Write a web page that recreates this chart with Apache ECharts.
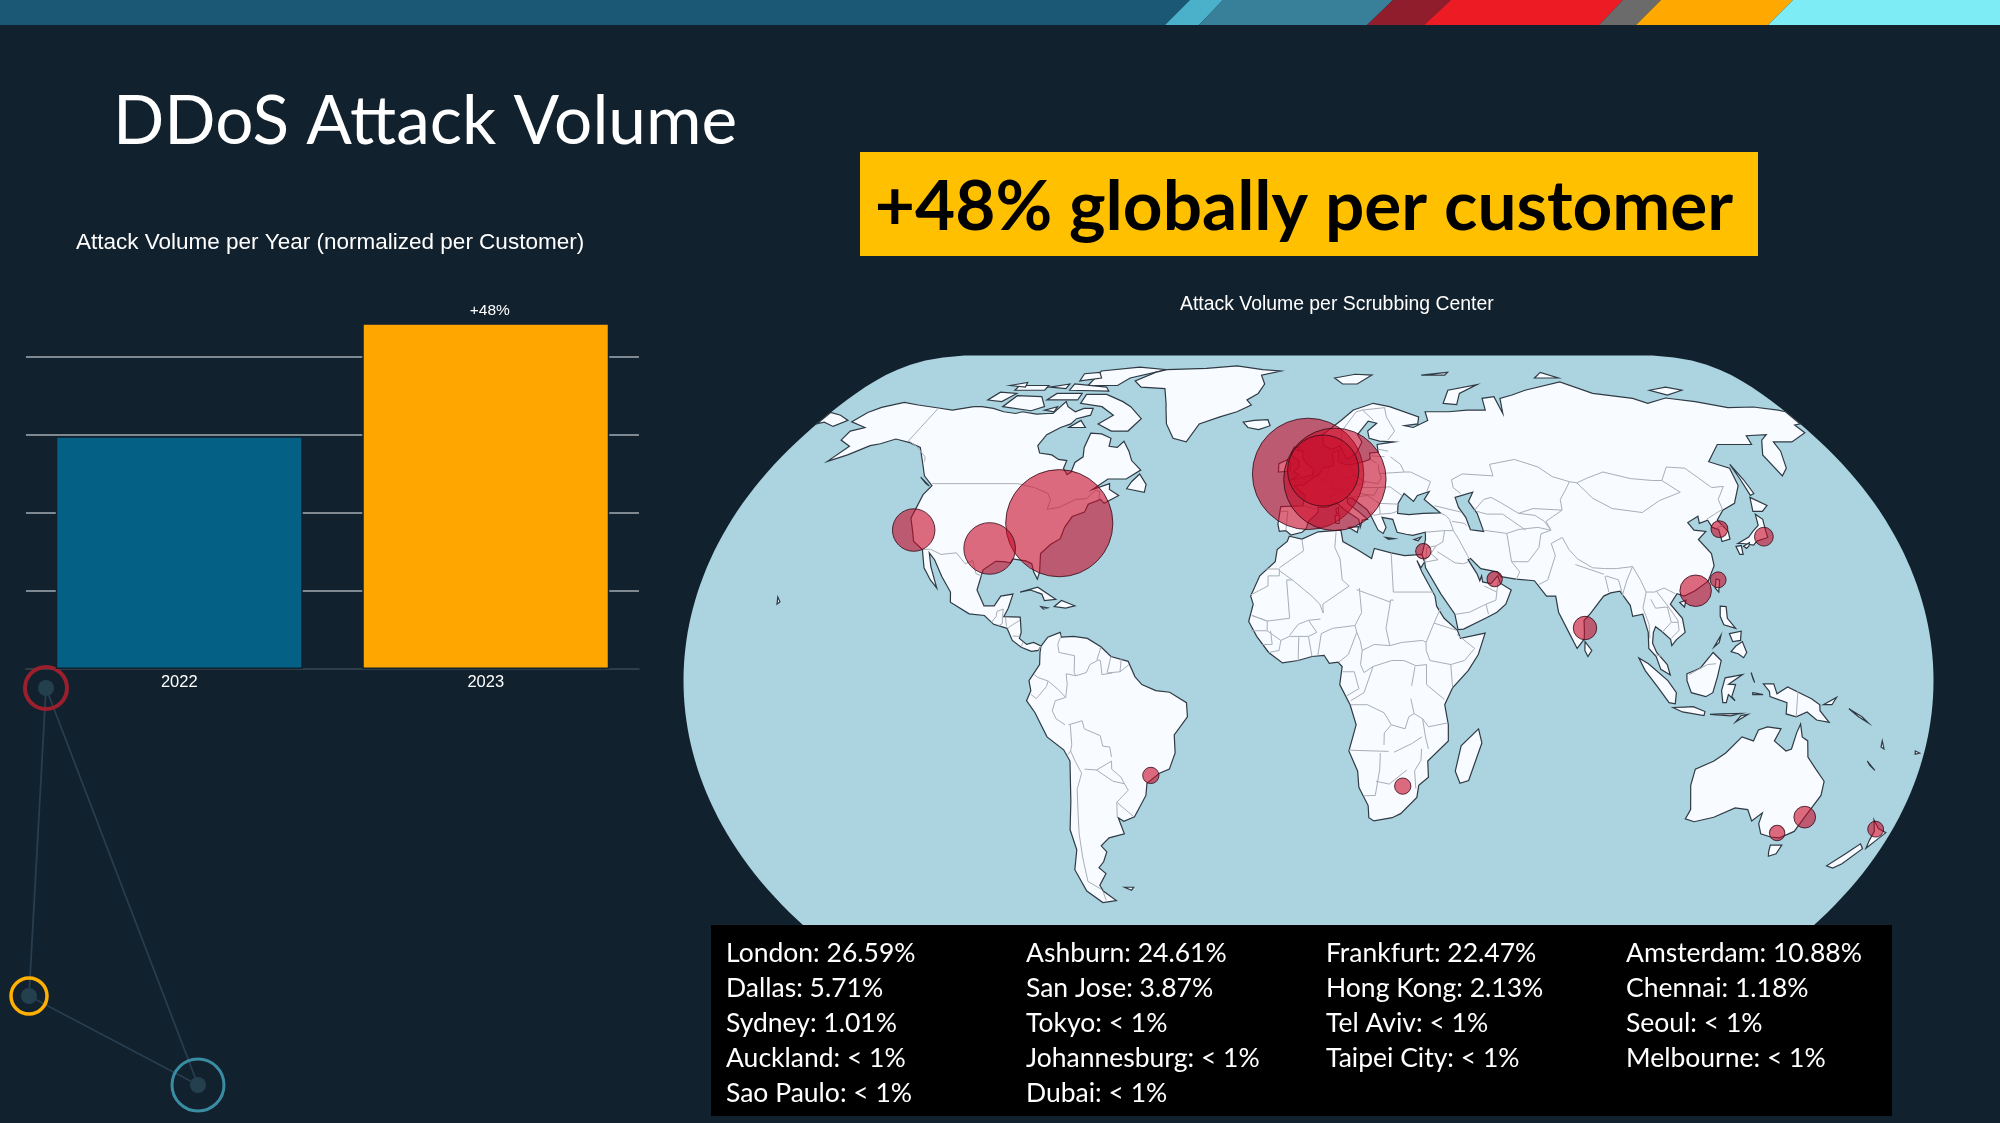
<!DOCTYPE html>
<html lang="en">

<head>
  <meta charset="utf-8">
  <title>DDoS Attack Volume</title>
  <script src="https://cdn.jsdelivr.net/npm/echarts@6/dist/echarts.min.js"></script>
  <style>
    body {
      margin: 0;
      background: #11212d;
      overflow: hidden;
    }

    #chart {
      width: 2000px;
      height: 1123px;
    }
  </style>
</head>

<body>
  <div id="chart"></div>

  <script>
    // --- Bar chart data.

    const YEARS = ['2022', '2023'];
    const YEAR_VOLUMES = [100.3, 148.9];
    const YEAR_LABELS = ['', '+48%'];

    // --- Scrubbing centers, in the order of the table under the map.

    const CITY_NAMES = ['London', 'Ashburn', 'Frankfurt', 'Amsterdam', 'Dallas', 'San Jose', 'Hong Kong', 'Chennai',
      'Sydney', 'Tokyo', 'Tel Aviv', 'Seoul', 'Auckland', 'Johannesburg', 'Taipei City', 'Melbourne', 'Sao Paulo', 'Dubai'];
    const CITY_SHARES = [26.59, 24.61, 22.47, 10.88, 5.71, 3.87, 2.13, 1.18,
      1.01, 0.76, 0.51, 0.61, 0.54, 0.57, 0.54, 0.51, 0.57, 0.51];
    const CITY_LONS = [-0.13, -77.49, 8.68, 4.9, -96.8, -121.89, 114.17, 80.27,
      151.21, 139.69, 34.78, 126.98, 174.76, 28.05, 121.56, 144.96, -46.63, 55.27];
    const CITY_LATS = [51.51, 39.04, 50.11, 52.37, 32.78, 37.34, 22.32, 13.08,
      -33.87, 35.69, 32.09, 37.57, -36.85, -26.2, 25.03, -37.81, -23.55, 25.2];

    // --- Simplified world outlines, [lon, lat].

    const LAND_POLYGONS = [
      // North America
      [[-168,65.6],[-166,68.3],[-163,69.8],[-156.5,71.3],[-150,70.5],[-141,69.6],[-135,69],[-128,70],[-125,70],[-120,69.5],[-115,68.5],[-110,68],[-108,68.5],[-102,67.8],[-98,68],[-96,68],[-94,71.5],[-92,70],[-88,68.5],[-85.5,69.5],[-82,69.5],[-81.5,67.5],[-86,66.5],[-87,65],[-90,64],[-93.5,62],[-94.5,59],[-92.5,57],[-88,56.5],[-85,55.3],[-82,55],[-82,52.9],[-80,51.3],[-79,52],[-79,54.5],[-77,56],[-78,58.5],[-78,62.4],[-74,62.2],[-70,61],[-69.5,58.8],[-66.5,58.5],[-65,60.2],[-62,57.5],[-60,55],[-56,52.5],[-60,50.2],[-66,50.2],[-70,47.5],[-65,49],[-64.5,47.5],[-61,46],[-65,44],[-66.5,45],[-70,43.8],[-70.5,41.8],[-74,40.7],[-75.5,38],[-76,35.2],[-78.5,33.8],[-81,31.5],[-80.2,27],[-80.5,25.2],[-82,27],[-83,29],[-85,29.7],[-89,30.2],[-89.5,29.2],[-91.5,29.5],[-94,29.6],[-97.2,27.5],[-97.8,22.5],[-95,18.6],[-92,18.6],[-90.5,21],[-87,21.5],[-87.8,18],[-88.8,15.9],[-84,15.8],[-83.3,12],[-83.7,10.5],[-81.5,9],[-79.5,9.5],[-77.3,8.6],[-78,7.5],[-80,7.3],[-83,8.3],[-85.7,10],[-87.5,13],[-91.5,14],[-94.5,16.2],[-99,16.6],[-105,19.5],[-105.5,22],[-109,25.8],[-112.5,30],[-114.7,31.7],[-113,28.2],[-109.8,23],[-112.2,25],[-115,28],[-117.1,32.5],[-120.6,34.5],[-122.5,37.7],[-124.3,40.3],[-124,46.2],[-122.7,48.5],[-127,51],[-130.5,54.5],[-135,58.5],[-140,59.8],[-146,60.8],[-150,59.5],[-153,59],[-158,56.5],[-163,54.8],[-160,58.8],[-165,60.5],[-165,63],[-161,64]],
      // Canadian Arctic
      [[-80,73.7],[-72,71.5],[-68,70],[-62,66.5],[-65,63],[-71,63],[-77,65],[-73,67.5],[-79,70],[-88,71],[-88,73.7]],
      [[-117,70],[-105,68.8],[-101,70],[-105,73],[-115,73.3]],
      [[-125,72],[-119,71.5],[-116,74],[-123,74.4]],
      [[-90,76.5],[-78,76.5],[-75,79],[-62,82],[-75,83],[-90,81.5]],
      [[-96,75],[-80,74.7],[-82,76],[-96,77]],
      [[-118,75],[-106,75],[-106,76.5],[-118,76.5]],
      [[-95,78],[-87,79],[-90,81],[-96,80.5]],
      [[-87,64],[-81,64],[-84,66]],
      [[-102,72],[-90,72],[-90,74],[-100,74]],
      [[-122,76.5],[-115,76],[-116,77.5]],
      [[-105,76],[-98,75.5],[-98,77]],
      [[-100,69],[-96,68.5],[-96,70]],
      [[-59,47.7],[-53,46.8],[-53,48.8],[-56,51.5],[-58,49.5]],
      [[-128,50.7],[-123.5,48.4],[-125,49]],
      // Greenland, Caribbean, Hawaii
      [[-62,82],[-45,82.5],[-32,83.5],[-20,82],[-12,81.5],[-20,80],[-18,77],[-20,74],[-24,72],[-22,70.5],[-27,68.5],[-33,67],[-40,65],[-43,60],[-48,61],[-52,65],[-54,69],[-55,71],[-58,75.5],[-68,76],[-72,78],[-66,81]],
      [[-85,22],[-80,23.2],[-74.2,20.2],[-77.5,19.9],[-78.5,21.5],[-82,22.5]],
      [[-74.4,18.4],[-72.5,19.9],[-68.4,18.6],[-71,18]],
      [[-78.3,18.4],[-76.3,18.1],[-77.5,17.8]],
      [[-156,20.8],[-155,19.6],[-155.7,19]],
      // South America
      [[-77.3,8.6],[-75.5,10.8],[-72,12],[-71.5,10.8],[-68,11],[-64,10.5],[-60,8.4],[-57,6],[-52,4.8],[-50,1],[-48,-1],[-44,-2.5],[-40,-2.9],[-35.2,-5.5],[-35,-9],[-39,-13.5],[-39,-18],[-41,-22],[-44,-23],[-48,-25.5],[-48.7,-28.5],[-53,-33.8],[-56.5,-34.9],[-58,-34],[-57,-38],[-62,-39],[-65,-41],[-63.7,-42.5],[-65.5,-45],[-67.5,-46.5],[-65.8,-48],[-69,-51],[-68.5,-52.5],[-65.2,-55],[-70,-55.5],[-74,-52.5],[-75.5,-47],[-73,-42],[-73.5,-37],[-71.5,-30],[-70,-20],[-71.5,-17.2],[-76,-14],[-79,-8],[-81.3,-5],[-80,-2.5],[-80.5,0],[-77.5,4],[-77.5,7]],
      [[-61,-51.5],[-58,-51.5],[-59,-52.3]],
      // Africa
      [[-5.9,35.8],[-2,35.1],[3,36.9],[10,37.3],[10.5,34.5],[15,32.4],[19,30.3],[20,32.8],[25,31.7],[29,31],[32.3,31.2],[34.3,31.3],[34.9,29.5],[33.6,28],[32.6,29.8],[33.8,27],[35.5,24],[37.2,21],[37.5,18.5],[39.5,15.5],[43.2,12.5],[44,10.5],[51.2,11.8],[49,6.5],[46,2.5],[41.5,-1.8],[39.3,-6],[40.5,-11],[40.7,-15],[35,-20],[35.5,-24],[32.8,-26],[32.5,-29],[28,-33],[25.5,-34],[20,-34.8],[18.4,-34],[18,-31],[15,-26.5],[14.5,-22.5],[11.8,-17.5],[13.8,-11],[12,-6],[9,-1],[9.7,3.5],[8.5,4.6],[6,4.3],[4.5,6.3],[1,6],[-3,5],[-7.5,4.4],[-11.5,7],[-15,11],[-17.4,14.7],[-16.2,19],[-17,21],[-14.5,26],[-10,29.5],[-9.5,32.5],[-6.5,34.5]],
      [[49.3,-12],[50.5,-15.5],[47.5,-24.8],[45,-25.5],[43.3,-22.5],[44.5,-16.2]],
      // Eurasia
      [[-9,37],[-9.5,38.8],[-8.8,43.2],[-1.8,43.4],[-1.1,46],[-4.5,48.4],[-1.5,48.7],[1.5,50.5],[3.5,51.4],[4.8,53],[8.5,53.7],[8.2,57],[10.5,57.6],[10,54.8],[12,54],[14.3,53.9],[18.5,54.7],[21,55.3],[21,57],[24,57.2],[24,59.3],[30,60],[25,60.2],[21.5,61],[21.3,63],[25,65.2],[22,65.8],[17.5,62],[18.8,60],[16.5,57],[14.5,56],[13,55.4],[11,59],[8,58],[5.3,59],[5,62],[12,66],[17,69],[25,71],[31,70],[41,67],[40,65],[35,64.5],[38,64],[44,66],[44,68.5],[53,68.5],[60,69],[67,69],[68,72.5],[73,73],[73,68],[75,72.5],[80.5,73.5],[87,75],[104,77.7],[113,74],[127,72.5],[131,71],[140,72.6],[150,71.5],[160,69.7],[170,69.9],[178,69],[180,68.5],[180,65],[177.5,64.7],[178,62.5],[170,60],[163.5,60],[163,57.5],[160,53],[156.7,51],[155.7,56.5],[160,60.5],[163.5,62],[156,61.7],[155,59.3],[143,59.3],[135.5,54.7],[141,53],[140,48.5],[135.5,44],[130.7,42.3],[127.5,39.8],[129.4,37],[129,35.1],[126.3,34.5],[126.7,37.5],[125,38],[124.5,39.8],[121.5,39],[122,40.8],[118,39.2],[119,37.3],[122.5,37],[119.3,35],[121.8,31.5],[121.5,28.5],[118.5,24.7],[114,22.3],[110.5,21],[108.5,21.6],[106,19],[108.9,15.5],[109.2,12],[106.5,10.2],[105,8.7],[104.8,10.3],[102.5,12.2],[100.8,13.4],[100,12],[99.5,9.3],[100.5,7],[103.4,4],[104.2,1.4],[101.5,2.8],[100.3,6],[98.3,8],[98.5,12],[97.5,16.5],[94.5,16],[94.2,18.7],[91.8,22.2],[89,21.8],[86.8,21],[82.3,16.7],[80.2,15],[80,12],[79.8,10.3],[77.6,8],[76,11],[73,17],[72.7,21],[70,21],[67,24.8],[61.6,25.2],[57.2,25.8],[56.3,27],[51.5,27.8],[48.8,30.3],[48,30],[50.2,26.5],[50.8,24.8],[51.5,26],[51.6,24.5],[54,24.1],[56.3,26],[56.8,24.2],[59.8,22.5],[57.8,19],[55,17],[52,15.7],[45,12.8],[43.4,12.7],[42.7,16.5],[39,21.5],[35,28],[34.9,29.5],[34.3,31.3],[35.8,35],[36,36.8],[32,36],[30,36.3],[27.3,36.8],[26.3,40],[23,40.5],[24,38],[23,36.5],[21.5,37.3],[19.5,41],[18.5,42.4],[14,45.3],[12.3,45.3],[12.5,44],[16,41.8],[18.4,40],[16.8,39.8],[16,38],[15.7,40],[12,42],[8.8,44.3],[6,43],[3,43],[3,41.7],[0,39.5],[-0.7,37.7],[-2,36.8],[-5.4,36.1],[-7,37.2]],
      [[-180,68.3],[-175,67.5],[-170,66],[-173,64.3],[-178,65.5],[-180,65]],
      // Arctic Eurasia
      [[11,79],[20,80.3],[27,80],[20,77],[14,77]],
      [[52,71],[57,70.6],[60,74],[69,76.8],[56,75]],
      [[48,80],[60,81],[58,80]],
      [[95,79],[105,79],[100,81]],
      [[137,75],[145,76],[150,75],[142,73.5]],
      // East Asia
      [[142,54],[143,50],[143.5,46.5],[142,46],[142,50]],
      [[140,42],[141.5,45.5],[145.5,43.5],[143,42]],
      [[130.9,34],[135,35.6],[137,37],[139.5,38.5],[140.3,41.3],[141.8,40],[141,37],[140.8,35.5],[137,34.6],[135.5,33.6],[132.5,34]],
      [[130,33.3],[131.7,33.5],[131.3,31.3],[130.3,31.3]],
      [[132.3,33.3],[134.5,34.2],[134,33.4],[133,32.8]],
      [[121,25.2],[122,25],[120.9,22],[120.1,23]],
      [[108.8,19.4],[110.8,20],[110,18.3]],
      // Europe and Mediterranean islands
      [[-5.7,50],[1.3,51.2],[1.7,52.7],[-1,54.5],[-2,56],[-2,57.6],[-4,57.7],[-3,58.6],[-5,58.6],[-6,56.5],[-3.2,54.9],[-3,53.4],[-5,52],[-3,51.4]],
      [[-10,52],[-6.3,52.2],[-6,54],[-7,55.3],[-10,54.2]],
      [[-24,65.5],[-22,64],[-18,63.4],[-14,64.5],[-15,66.2],[-20,66]],
      [[12.5,38],[15.5,38.2],[15,36.7]],
      [[8.3,41],[9.7,41],[9.5,39],[8.5,39]],
      [[8.7,42.7],[9.5,43],[9.4,41.5],[8.8,41.5]],
      [[23.6,35.5],[26.3,35.2],[24.5,35]],
      [[32.3,35],[34.5,35.6],[33.5,34.7]],
      // South Asia and South East Asia
      [[80,9.7],[81.8,7.5],[80.6,6],[79.8,7.5]],
      [[95.3,5.6],[98,4.2],[103.5,0],[106,-3],[105.8,-5.8],[104,-5.5],[100.5,-1.5],[97,2.5]],
      [[105.2,-6.7],[108.5,-6.6],[111,-6.5],[114.5,-7.7],[114.3,-8.7],[108,-7.8]],
      [[109,1.7],[111.3,2.5],[113,3.2],[116.8,7],[119,5],[117.8,1],[116.5,-3],[114.5,-4],[110.3,-3],[109,0]],
      [[119.5,-5.5],[119,-2.5],[120,0.7],[125,1.5],[121,-0.9],[123,-1],[122,-4],[123,-5],[121,-3.5],[120.5,-5.5]],
      [[131,-0.8],[134,-0.8],[135,-3.3],[138,-1.6],[145,-4.5],[147.5,-6],[147.7,-7.5],[150.7,-10.4],[147,-9.8],[144,-7.8],[141,-9],[138,-8.3],[138,-5.5],[133,-4],[132.8,-2.7]],
      [[123.6,-10.3],[127,-8.4],[125,-8.7]],
      [[116,-8.4],[119,-8.3],[125,-8.2],[122,-8.8]],
      [[127.5,2],[128.5,-0.5],[128,0.5]],
      [[128,-3],[131,-3.5],[128,-3.5]],
      [[120.5,18.5],[122.2,18.4],[122,15.5],[124,13],[120.7,13.9],[120,16]],
      [[122,7.2],[123.5,8.6],[125.5,9.7],[126.5,7],[125.5,5.7],[124,6.7]],
      [[122,11.7],[125.5,12.3],[125,10],[122.7,9.7]],
      [[117.2,8.4],[119.5,11.3],[118.8,9.5]],
      // Oceania
      [[114,-22],[113.7,-26],[115.7,-32],[115,-34.3],[118,-35],[123.5,-33.9],[129,-31.6],[133,-32],[135.5,-34.8],[137.8,-32.8],[138,-35.5],[140,-38],[143.5,-38.8],[146.4,-39],[150,-37.4],[151.2,-33.8],[153.5,-28.5],[153,-25],[149.5,-22],[146.3,-19],[145.3,-15],[143.5,-14],[142.5,-10.8],[141.7,-13],[141,-17],[139.5,-17.5],[135.6,-15],[137,-12],[133,-11.5],[130.5,-12.3],[129.5,-15],[126,-14],[122,-18],[119,-20]],
      [[144.7,-40.8],[148.3,-40.8],[148,-43],[146,-43.6],[145.3,-42.5]],
      [[172.7,-34.5],[175.5,-36.7],[178.5,-37.7],[177,-39.5],[175.3,-41.6],[174.8,-39.5],[174.7,-37.3]],
      [[172.7,-40.5],[174.3,-41.7],[171,-45.5],[169,-46.6],[166.5,-46],[170,-43]],
      [[148.5,-6],[152.2,-4.2],[151,-6]],
      [[156,-7],[160,-9],[162,-10.5],[159,-9]],
      [[164,-20],[167,-22.3],[165,-21]],
      [[167,-15],[168,-17],[167,-16.5]],
      [[177.3,-17.5],[178.7,-18],[177.5,-18.3]]
    ];

    // Inland seas, painted over the land in the ocean colour.
    const WATER_POLYGONS = [
      [[28,41.5],[31.5,41.2],[36,41.5],[41.5,41.6],[37,45],[39,47],[35,46],[33.5,44.5],[30.8,46.5],[28.5,44]],
      [[47,45.5],[53,46.8],[51,44.5],[53,41.5],[54,37],[50,37.4],[49.2,40.5],[47.5,43]]
    ];

    const BORDER_LINES = [
      // North America
      [[-123,49],[-95,49],[-89,48],[-84,46.5],[-82.5,45],[-82.5,42.5],[-79,43],[-76,44.3],[-74.5,45],[-71,45.2],[-69,47.3],[-67.5,47],[-67,45]],
      [[-141,69.6],[-141,60.3],[-137,59],[-131,56],[-130,54.7]],
      [[-117,32.5],[-114.7,32.6],[-111,31.3],[-106.5,31.7],[-103,29],[-101,29.8],[-99,26.5],[-97.2,26]],
      [[-92.2,14.5],[-91,16],[-91,17.2],[-89.2,17.8]],
      [[-89.2,17.8],[-89.2,15.9]],
      [[-89.2,15.9],[-89,14.2],[-90,13.7]],
      [[-88.3,15.7],[-87.7,13.5]],
      [[-84,15],[-86,13.9],[-87.3,13]],
      [[-83.7,11],[-85.7,11.1]],
      [[-82.6,9.5],[-83,8.3]],
      // South America
      [[-77.4,8.6],[-77.9,7.2]],
      [[-71.5,11.7],[-72.5,9],[-72,7],[-67.5,6.2],[-67.5,2],[-67,1.2]],
      [[-60,8.3],[-61,5.2],[-60,5]],
      [[-67,1.2],[-64,2],[-63,4],[-60.8,5]],
      [[-60,5],[-59.5,1.5],[-56.5,1.9]],
      [[-57,6],[-58,2]],
      [[-54,5.5],[-54.3,2.2]],
      [[-58,1.9],[-54.3,2.2],[-51.7,4]],
      [[-67,1.2],[-69.8,1.7],[-69.5,-1],[-70,-4.2]],
      [[-70,-4.2],[-72,-2.3],[-75,-0.1]],
      [[-75,-0.1],[-78,0.8],[-79,1.5]],
      [[-75,-0.1],[-75.5,-1.5],[-78.5,-4.5],[-80,-3.4]],
      [[-70,-4.2],[-73,-5],[-74,-7.5],[-73,-9.5],[-70.5,-11]],
      [[-69,-11],[-69,-16],[-69.5,-17.5]],
      [[-69.5,-11],[-65.5,-10],[-65,-12],[-60.5,-13.7],[-60,-16.3],[-58,-16.5],[-57.7,-19]],
      [[-57.8,-20],[-62.5,-22.2]],
      [[-62.5,-22.2],[-66,-22]],
      [[-69.5,-17.5],[-68.5,-20],[-67,-23]],
      [[-69.5,-17.5],[-70.4,-18.4]],
      [[-67,-23],[-69,-27],[-70,-33],[-71,-38],[-71.8,-44],[-72.5,-50],[-69,-52]],
      [[-68.6,-52.6],[-68.6,-54.9]],
      [[-62.5,-22.2],[-58,-25],[-54.7,-25.6]],
      [[-57.8,-20],[-58,-22],[-55.5,-24],[-54.7,-25.6]],
      [[-54.7,-25.6],[-53.8,-27.2],[-57.7,-30.2]],
      [[-57.7,-30.2],[-58.3,-34]],
      [[-57.7,-30.2],[-53.3,-33.7]],
      // Africa
      [[-2,35],[-1.5,32.2],[-8.7,28]],
      [[-8.7,27.7],[-13,27.7]],
      [[-8.7,27.7],[-8.7,26],[-12,26],[-12,23.5],[-17,21.3]],
      [[-8.7,27.3],[-4.8,25],[-6.5,25],[-5.5,15.5],[-12,14.8],[-16.5,16.2]],
      [[-4.8,25],[1,21],[3.3,19],[4.3,16.8],[4.2,19],[12,23.5]],
      [[8.5,37],[8,33],[9.5,30.2]],
      [[9.5,30.2],[10,25],[12,23.5]],
      [[25,31.6],[25,22]],
      [[14.2,22.6],[24,19.5]],
      [[25,22],[36.9,22]],
      [[24,19.5],[24,20],[25,20]],
      [[15,23],[15.5,16.9],[13.5,13.7]],
      [[13.5,13.7],[7,13],[3.7,11.7]],
      [[-5.5,11.2],[-3,14],[0,15],[3.5,15.3]],
      [[0,15],[2.4,12]],
      [[24,19.5],[22.5,13],[23.5,8.7]],
      [[15.5,7.5],[19,9],[23.5,8.7]],
      [[8.7,4.6],[11.5,6.5],[14,12],[13.5,13.7]],
      [[14,12],[15,9.8],[15.5,7.5]],
      [[15.5,7.5],[15,4],[16,2]],
      [[9.8,2.2],[13.2,2.2],[14.5,-2],[11,-3.8]],
      [[12.2,-5],[16,-3],[18.6,3.5]],
      [[16,2],[18.6,3.5]],
      [[18.6,3.5],[24,5],[27.5,5]],
      [[23.5,8.7],[27,9.5],[33,10],[34,9.5]],
      [[34,9.5],[34,7.5],[35,5]],
      [[27.5,5],[31,3.7],[34,4]],
      [[30.7,3.5],[29.7,-1.3]],
      [[35,5],[41,4]],
      [[41,4],[41.5,-1.7]],
      [[34,4],[34,-1]],
      [[34,-1],[39.2,-4.7]],
      [[29.5,-4.5],[30.5,-8.2]],
      [[30.5,-8.2],[33,-9.5],[34.8,-11.5]],
      [[34.8,-11.5],[40.4,-10.5]],
      [[33,-9.5],[34,-14],[35,-17]],
      [[12.2,-6],[17,-6],[21.8,-8],[24,-11]],
      [[24,-11],[22,-13],[22,-16]],
      [[11.8,-17.3],[23.4,-17.6]],
      [[21,-18],[21,-22],[20,-28.5]],
      [[20,-28.5],[16.5,-28.6]],
      [[20,-25],[24,-25.7],[29,-22.2]],
      [[33,-17],[33,-19.8],[31.3,-22.4]],
      [[25,-17.8],[30,-15.7]],
      [[30,-15.7],[33,-14]],
      [[24,-11],[28,-12],[29,-9],[30.5,-8.2]],
      [[31.3,-22.4],[32,-26.8]],
      [[36.5,14.3],[43,12.5]],
      [[36.5,14.3],[34,9.5]],
      [[36.5,14.3],[38.6,18]],
      [[43,11.5],[48,8],[45,5],[41,4]],
      [[-16.5,16.2],[-12,14.8],[-12,12.4],[-16.7,12.4]],
      [[-13.3,9],[-10.5,9],[-11,12.4]],
      [[-11.5,7],[-8.5,7.5],[-8,10]],
      [[-3,5],[-2.8,11]],
      [[1,6],[0,11]],
      [[2.7,6.3],[3.7,11.7]],
      [[-5.5,11],[-2.8,11],[0,11],[2.4,12]],
      [[-12,12.4],[-8,10],[-5.5,11]],
      // Europe
      [[-1.8,43.4],[3,42.5]],
      [[-8.8,42],[-6.5,42],[-7,37.2]],
      [[2.5,51],[6,49.5],[8,49],[7.5,47.6]],
      [[6,51],[7,53.3]],
      [[7.5,44],[7,46]],
      [[7,46],[10.5,47],[13,46.7],[13.7,45.7]],
      [[7.5,47.6],[13,47.5],[13.8,48.7]],
      [[14.3,53.9],[15,51]],
      [[12.2,50.3],[15,51],[18.8,49.5],[17,48.7],[13.8,48.7]],
      [[18.8,49.5],[22.7,49],[24,50.5],[23.5,52],[23.5,54]],
      [[21,55.3],[23,54.3]],
      [[28,56],[31,54],[31.8,52]],
      [[31.8,52],[34,52],[40,49.5],[38.2,47]],
      [[23.6,51.6],[31.8,52]],
      [[24.3,58],[27.5,57.5]],
      [[21,56.3],[26,56]],
      [[28,60.5],[31,63],[29,67],[29,69.7]],
      [[11.5,59],[12,63],[18,68.5],[20.5,69]],
      [[20.5,69],[24,66]],
      [[20.5,69],[29,69.7]],
      [[22.7,48],[26.5,48.2],[30,46],[29.5,45.3]],
      [[17,48],[22.7,48],[21,46],[16.5,46.5]],
      [[22.5,44],[28.5,43.8]],
      [[22.5,41.3],[26,41.5],[28,42]],
      [[13.7,45.5],[19,46],[22.5,44],[22.5,41.3],[20.5,41],[19.4,42]],
      // Middle East and Central Asia
      [[36,36.8],[42,37.2],[44.7,37.2]],
      [[44.7,37.2],[44,40],[43,41],[41.5,41.5]],
      [[40,43.4],[48,41.8]],
      [[44.7,39.5],[48.5,39],[49,38.4]],
      [[42,37.2],[41,34.4],[38.8,33.4]],
      [[44.7,37.2],[46,35],[48,31],[48.5,30]],
      [[35.9,33],[38.8,33.4],[37,31.5],[39,30],[35,29.4]],
      [[35.9,33],[35.5,31],[34.9,29.5]],
      [[39,32],[44,29.2],[46.5,29],[48,29.5]],
      [[43,16.5],[47,17],[52,19],[55,20],[55.5,22],[52,23.5]],
      [[52.5,16.5],[52,19]],
      [[55.5,22],[56.3,25]],
      [[61.6,25],[63,27],[61,29.5]],
      [[61,29.5],[61,34.8],[61,36.5]],
      [[54,37.3],[61,36.5]],
      [[61,36.5],[65,37.5],[71,38],[74.8,37.3]],
      [[61,29.5],[66,29.5],[70,33],[71.5,36.4],[74.8,37.3]],
      [[47,50],[51,51.5],[61,51],[61,54],[70,55.3],[77,53.3],[80.5,50.8],[85.5,49.5]],
      [[52,42],[56,45],[58.5,45.5],[61,44.3],[66,41.5],[71,42.7],[80,42.3],[80.5,45],[83,47.2],[85.5,49.5]],
      [[47,50],[47,48],[49,46.5]],
      [[53,42],[56,41.3],[61,41.3],[66,38],[67,37.3]],
      [[66,41.5],[71,41],[73.5,39.5],[74.8,37.3]],
      // South and East Asia
      [[68,23.8],[71,25],[74.5,31],[74,34],[77.8,35.5]],
      [[74.8,37.3],[74,39.5],[80,42.3]],
      [[77.8,35.5],[79,32.5],[81,30.2],[85,28],[88.5,27.8],[92,27.8],[97,28.3]],
      [[80,28.8],[88,26.4]],
      [[88.2,26],[88.5,22]],
      [[88.5,26],[92,25],[92.5,21]],
      [[97,28.3],[94.5,25],[92.5,21.5]],
      [[97,28.3],[98.5,25],[99.5,22]],
      [[99.5,22],[102,22],[105,23],[108,21.6]],
      [[99.5,22],[97.8,18],[99,14],[98.8,10.5]],
      [[100.5,20.2],[101.5,18],[105,18.3],[105.5,14.5]],
      [[102.5,22.3],[105,18.8],[107.5,15],[107.5,12.5]],
      [[102.5,12],[105.5,14.5],[107.5,14.5]],
      [[107.5,12.5],[105,10.5]],
      [[100,6.5],[102,6]],
      [[87.8,49.2],[92,50.5],[98,52],[106,50.3],[113,49.8],[116,49.8],[120,46.8],[112,44.7],[105,41.7],[96,42.7],[91,45.3],[87.8,49.2]],
      [[85.5,49.5],[87.8,49.2]],
      [[116,49.8],[120,53.3],[126,53],[131,48],[135,48.3],[131,45],[130.7,42.3]],
      [[124.3,40],[128,41.5],[130.7,42.5]],
      [[126.5,38],[128.5,38.4]],
      [[141,-2.6],[141,-9]],
      [[109.6,1.5],[115,4],[117.5,4.2]]
    ];

    // --- Natural Earth projection.

    function naturalEarth([lon, lat]) {
      const lam = lon * Math.PI / 180;
      const phi = lat * Math.PI / 180;
      const p2 = phi * phi;
      const p4 = p2 * p2;
      const p6 = p4 * p2;
      const p8 = p4 * p4;
      const p10 = p8 * p2;
      const p12 = p6 * p6;
      const l = 0.8707 - 0.131979 * p2 - 0.013791 * p4 + 0.003971 * p10 - 0.001529 * p12;
      const d = phi * (1.007226 + 0.015085 * p2 - 0.044475 * p6 + 0.028874 * p8 - 0.005916 * p10);
      return [lam * l, -d];
    }

    // Only the forward projection is used, nothing reads screen points back.
    function naturalEarthInvert(point) {
      return point;
    }

    // The outline of the whole globe, used as the ocean.
    function globeOutline() {
      const ring = [];
      for (let lat = -90; lat <= 90; lat += 2) ring.push([-180, lat]);
      for (let lat = 90; lat >= -90; lat -= 2) ring.push([180, lat]);
      ring.push([-180, -90]);
      return ring;
    }

    function closeRing(ring) {
      return ring.concat([ring[0]]);
    }

    function polygonFeature(name, ring) {
      return {
        type: 'Feature',
        properties: { name: name },
        geometry: { type: 'Polygon', coordinates: [closeRing(ring)] }
      };
    }

    function buildWorld() {
      const features = [{
        type: 'Feature',
        properties: { name: 'Ocean' },
        geometry: { type: 'Polygon', coordinates: [globeOutline()] }
      }];
      LAND_POLYGONS.forEach((ring, i) => features.push(polygonFeature('Land ' + i, ring)));
      WATER_POLYGONS.forEach((ring, i) => features.push(polygonFeature('Water ' + i, ring)));
      return { type: 'FeatureCollection', features: features };
    }

    // --- Page furniture: colours of the strip on top, and the three rings.

    const BG = '#11212d';
    const OCEAN = '#abd3e0';
    const TEXT = '#ffffff';
    const BODY_FONT = '"Liberation Sans", Arial, sans-serif';
    const SLIDE_FONT = 'Lato, "Open Sans", sans-serif';

    const STRIP = [
      { color: '#1b5876', points: [[0, 0], [1190, 0], [1165, 25], [0, 25]] },
      { color: '#4bb0c9', points: [[1190, 0], [1223, 0], [1199, 25], [1165, 25]] },
      { color: '#38809a', points: [[1223, 0], [1393, 0], [1367, 25], [1199, 25]] },
      { color: '#8f1d2c', points: [[1393, 0], [1451, 0], [1424, 25], [1367, 25]] },
      { color: '#ed1c24', points: [[1451, 0], [1623, 0], [1599, 25], [1424, 25]] },
      { color: '#6b6b6b', points: [[1623, 0], [1661, 0], [1636, 25], [1599, 25]] },
      { color: '#ffa800', points: [[1661, 0], [1793, 0], [1768, 25], [1636, 25]] },
      { color: '#7eecf4', points: [[1793, 0], [2000, 0], [2000, 25], [1768, 25]] }
    ];

    const RINGS = [
      { cx: 46, cy: 688, r: 21, color: '#9c1f2e', width: 4 },
      { cx: 29, cy: 996, r: 18, color: '#ffb000', width: 3.5 },
      { cx: 198, cy: 1085, r: 26, color: '#3a8ca3', width: 3 }
    ];

    function lineElement(a, b) {
      return {
        type: 'line',
        z: 1,
        shape: { x1: a.cx, y1: a.cy, x2: b.cx, y2: b.cy },
        style: { stroke: '#283d4e', lineWidth: 1.8 }
      };
    }

    function furniture() {
      const items = [];

      STRIP.forEach(s => items.push({
        type: 'polygon',
        z: 1,
        shape: { points: s.points },
        style: { fill: s.color }
      }));

      items.push(lineElement(RINGS[0], RINGS[1]));
      items.push(lineElement(RINGS[0], RINGS[2]));
      items.push(lineElement(RINGS[1], RINGS[2]));
      RINGS.forEach(r => {
        items.push({
          type: 'circle',
          z: 2,
          shape: { cx: r.cx, cy: r.cy, r: 8 },
          style: { fill: '#24404f' }
        });
        items.push({
          type: 'circle',
          z: 2,
          shape: { cx: r.cx, cy: r.cy, r: r.r },
          style: { fill: 'transparent', stroke: r.color, lineWidth: r.width }
        });
      });

      // Headline.
      items.push({
        type: 'text',
        z: 20,
        style: {
          text: 'DDoS Attack Volume',
          x: 113,
          y: 122,
          fill: TEXT,
          font: '400 67.5px ' + SLIDE_FONT,
          textVerticalAlign: 'middle'
        }
      });

      // Yellow call-out.
      items.push({
        type: 'rect',
        z: 20,
        shape: { x: 860, y: 152, width: 898, height: 104 },
        style: { fill: '#ffc000' }
      });
      items.push({
        type: 'text',
        z: 21,
        style: {
          text: '+48% globally per customer',
          x: 1304,
          y: 208,
          fill: '#000000',
          font: '700 69.3px ' + SLIDE_FONT,
          textAlign: 'center',
          textVerticalAlign: 'middle'
        }
      });

      // Table under the map, four columns filled row by row.
      items.push({
        type: 'rect',
        z: 20,
        shape: { x: 711, y: 925, width: 1181, height: 191 },
        style: { fill: '#000000' }
      });
      const columnX = [726, 1026, 1326, 1626];
      CITY_NAMES.forEach((name, i) => {
        const share = CITY_SHARES[i] < 1 ? '< 1%' : CITY_SHARES[i].toFixed(2) + '%';
        items.push({
          type: 'text',
          z: 21,
          style: {
            text: name + ': ' + share,
            x: columnX[i % 4],
            y: 953 + Math.floor(i / 4) * 35,
            fill: TEXT,
            font: '400 26.5px ' + SLIDE_FONT,
            textVerticalAlign: 'middle'
          }
        });
      });

      return items;
    }

    // --- Chart options.

    function makeOptions() {
      return {
        backgroundColor: BG,
        animation: false,
        title: [
          {
            text: 'Attack Volume per Year (normalized per Customer)',
            left: 76,
            top: 231,
            padding: 0,
            textStyle: { color: TEXT, fontFamily: BODY_FONT, fontWeight: 'normal', fontSize: 22.5 }
          },
          {
            text: 'Attack Volume per Scrubbing Center',
            left: 1180,
            top: 295,
            padding: 0,
            textStyle: { color: TEXT, fontFamily: BODY_FONT, fontWeight: 'normal', fontSize: 19.4 }
          }
        ],
        grid: { left: 26, top: 279, width: 613, height: 390 },
        xAxis: {
          type: 'category',
          data: YEARS,
          axisTick: { show: false },
          axisLine: { lineStyle: { color: '#3a4752', width: 1.5 } },
          axisLabel: { color: TEXT, fontFamily: BODY_FONT, fontSize: 16.5, margin: 5 }
        },
        yAxis: {
          type: 'value',
          min: 0,
          max: 168,
          interval: 33.6,
          axisLabel: { show: false },
          axisLine: { show: false },
          axisTick: { show: false },
          splitLine: {
            showMinLine: false,
            showMaxLine: false,
            lineStyle: { color: '#a4adb5', width: 1.5 }
          }
        },
        geo: {
          map: 'simple-world',
          roam: false,
          silent: true,
          left: 683.5,
          top: 355.6,
          width: 1250,
          height: 650,
          projection: { project: naturalEarth, unproject: naturalEarthInvert },
          label: { show: false },
          itemStyle: { areaColor: '#f8fbff', borderColor: '#2f3a44', borderWidth: 1.2 },
          regions: [
            { name: 'Ocean', itemStyle: { areaColor: OCEAN, borderWidth: 0 } },
            { name: 'Water 0', itemStyle: { areaColor: OCEAN } },
            { name: 'Water 1', itemStyle: { areaColor: OCEAN } }
          ]
        },
        graphic: furniture(),
        series: [
          {
            type: 'bar',
            barWidth: 247,
            data: YEAR_VOLUMES.map((v, i) => ({
              value: v,
              itemStyle: { color: i === 0 ? '#056085' : '#ffa600' }
            })),
            itemStyle: { borderColor: BG, borderWidth: 1.5 },
            label: {
              show: true,
              position: 'top',
              distance: 5,
              offset: [4, 0],
              color: TEXT,
              fontFamily: BODY_FONT,
              fontSize: 15.5,
              formatter: p => YEAR_LABELS[p.dataIndex]
            }
          },
          {
            type: 'lines',
            coordinateSystem: 'geo',
            polyline: true,
            silent: true,
            z: 3,
            data: BORDER_LINES.map(line => ({ coords: line })),
            lineStyle: { color: '#a9afb5', width: 1, opacity: 1 }
          },
          {
            type: 'scatter',
            coordinateSystem: 'geo',
            silent: true,
            z: 5,
            data: CITY_NAMES.map((name, i) => ({
              name: name,
              value: [CITY_LONS[i], CITY_LATS[i], CITY_SHARES[i]]
            })),
            symbolSize: val => 21.6 * Math.sqrt(val[2]),
            itemStyle: {
              color: 'rgba(200, 10, 40, 0.6)',
              borderColor: 'rgba(50, 10, 20, 0.8)',
              borderWidth: 1,
              opacity: 1
            }
          }
        ]
      };
    }

    // --- Main.

    echarts.registerMap('simple-world', buildWorld());
    const instance = echarts.init(document.getElementById('chart'), null, { renderer: 'canvas' });
    instance.setOption(makeOptions());
  </script>
</body>

</html>
